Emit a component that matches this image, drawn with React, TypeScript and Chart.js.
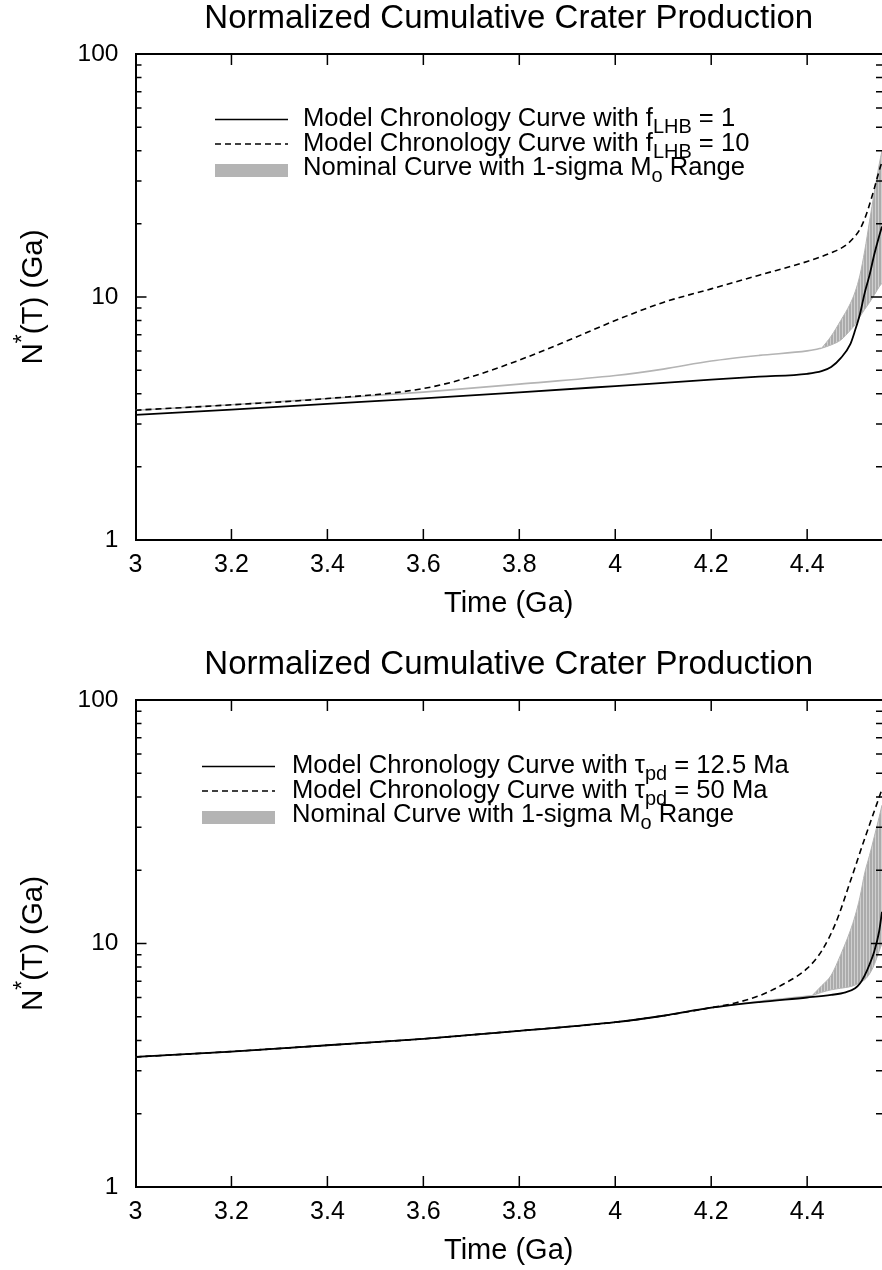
import React, { useEffect, useRef } from "react";
import { Chart, registerables } from "chart.js";

Chart.register(...registerables);

const FONT = '"Liberation Sans", Arial, Helvetica, sans-serif';
const TITLE = "Normalized Cumulative Crater Production";
const X_TITLE = "Time (Ga)";

const X_MIN = 3;
const X_MAX = 4.556;
const X_TICKS = [3, 3.2, 3.4, 3.6, 3.8, 4, 4.2, 4.4];
const X_TICK_LABELS = ["3", "3.2", "3.4", "3.6", "3.8", "4", "4.2", "4.4"];
const Y_MIN = 1;
const Y_MAX = 100;
const Y_TICKS = [1, 10, 100];
const Y_TICK_LABELS = ["1", "10", "100"];
const Y_MINOR = [2, 3, 4, 5, 6, 7, 8, 9, 20, 30, 40, 50, 60, 70, 80, 90];

// ---------- Top panel (f_LHB) ----------
const TOP_SOLID_X = [3.0, 3.2, 3.4, 3.6, 3.8, 4.0, 4.2, 4.3, 4.4, 4.43, 4.45, 4.47, 4.49, 4.5, 4.51, 4.52, 4.53, 4.54, 4.55, 4.556];
const TOP_SOLID_Y = [3.27, 3.44, 3.63, 3.83, 4.05, 4.3, 4.57, 4.7, 4.83, 4.95, 5.15, 5.6, 6.4, 7.3, 8.5, 10.4, 12.3, 15.0, 17.8, 19.5];

const TOP_DASHED_X = [3.0, 3.2, 3.4, 3.6, 3.7, 3.8, 3.9, 4.0, 4.1, 4.2, 4.3, 4.4, 4.45, 4.48, 4.5, 4.51, 4.52, 4.53, 4.54, 4.55, 4.556];
const TOP_DASHED_Y = [3.42, 3.6, 3.82, 4.2, 4.7, 5.5, 6.6, 8.0, 9.5, 10.8, 12.3, 14.0, 15.2, 16.3, 17.8, 19.0, 21.0, 24.0, 28.0, 33.0, 36.0];

const TOP_NOMINAL_X = [3.0, 3.2, 3.4, 3.6, 3.8, 4.0, 4.1, 4.2, 4.3, 4.4, 4.43];
const TOP_NOMINAL_Y = [3.42, 3.6, 3.82, 4.06, 4.38, 4.75, 5.05, 5.45, 5.75, 6.0, 6.15];

const TOP_BAND_X = [4.43, 4.45, 4.47, 4.49, 4.5, 4.51, 4.52, 4.53, 4.54, 4.55, 4.556];
const TOP_BAND_LOW = [6.15, 6.35, 6.65, 7.3, 7.7, 8.3, 8.9, 9.5, 10.2, 11.0, 11.4];
const TOP_BAND_HIGH = [6.15, 6.9, 8.0, 9.4, 10.5, 12.3, 15.5, 20.5, 27.0, 35.0, 40.0];

// ---------- Bottom panel (tau_pd) ----------
const BOT_SOLID_X = [3.0, 3.2, 3.4, 3.6, 3.8, 4.0, 4.1, 4.2, 4.3, 4.4, 4.45, 4.48, 4.5, 4.51, 4.52, 4.53, 4.54, 4.55, 4.556];
const BOT_SOLID_Y = [3.42, 3.6, 3.82, 4.06, 4.38, 4.75, 5.05, 5.45, 5.75, 6.0, 6.15, 6.3, 6.55, 6.85, 7.4, 8.2, 9.3, 11.2, 13.5];

const BOT_DASHED_X = [3.0, 3.2, 3.4, 3.6, 3.8, 4.0, 4.1, 4.2, 4.25, 4.3, 4.35, 4.4, 4.43, 4.46, 4.49, 4.52, 4.54, 4.556];
const BOT_DASHED_Y = [3.42, 3.6, 3.82, 4.06, 4.38, 4.75, 5.05, 5.45, 5.7, 6.1, 6.8, 7.9, 9.3, 12.2, 18.0, 27.0, 35.0, 43.0];

const BOT_NOMINAL_X = [3.0, 3.2, 3.4, 3.6, 3.8, 4.0, 4.1, 4.2, 4.3, 4.41];
const BOT_NOMINAL_Y = [3.42, 3.6, 3.82, 4.06, 4.38, 4.75, 5.05, 5.45, 5.78, 6.1];

const BOT_BAND_X = [4.41, 4.43, 4.45, 4.47, 4.49, 4.5, 4.51, 4.52, 4.53, 4.54, 4.55, 4.556];
const BOT_BAND_LOW = [6.1, 6.3, 6.45, 6.55, 6.65, 6.75, 6.9, 7.1, 7.5, 8.2, 9.3, 10.0];
const BOT_BAND_HIGH = [6.1, 6.7, 7.4, 9.0, 11.3, 13.0, 15.5, 19.5, 23.0, 27.5, 33.0, 37.0];

type Part = { t: string; sub?: boolean; sup?: boolean };
type LegendItem = { kind: "solid" | "dashed" | "band"; parts: Part[] };

const TOP_LEGEND: LegendItem[] = [
  { kind: "solid", parts: [{ t: "Model Chronology Curve with f" }, { t: "LHB", sub: true }, { t: " = 1" }] },
  { kind: "dashed", parts: [{ t: "Model Chronology Curve with f" }, { t: "LHB", sub: true }, { t: " = 10" }] },
  { kind: "band", parts: [{ t: "Nominal Curve with 1-sigma M" }, { t: "o", sub: true }, { t: " Range" }] },
];

const BOT_LEGEND: LegendItem[] = [
  { kind: "solid", parts: [{ t: "Model Chronology Curve with \u03c4" }, { t: "pd", sub: true }, { t: " = 12.5 Ma" }] },
  { kind: "dashed", parts: [{ t: "Model Chronology Curve with \u03c4" }, { t: "pd", sub: true }, { t: " = 50 Ma" }] },
  { kind: "band", parts: [{ t: "Nominal Curve with 1-sigma M" }, { t: "o", sub: true }, { t: " Range" }] },
];

const Y_TITLE_PARTS: Part[] = [{ t: "N" }, { t: "*", sup: true }, { t: "(T) (Ga)" }];

const GRAY = "#b4b4b4";

function partFont(p: Part, size: number) {
  const s = p.sub || p.sup ? size * 0.78 : size;
  return `${s}px ${FONT}`;
}
function partDy(p: Part, size: number) {
  if (p.sub) return size * 0.28;
  if (p.sup) return -size * 0.42;
  return 0;
}
function richWidth(ctx: CanvasRenderingContext2D, parts: Part[], size: number) {
  let w = 0;
  for (const p of parts) {
    ctx.font = partFont(p, size);
    w += ctx.measureText(p.t).width;
  }
  return w;
}
function drawRich(ctx: CanvasRenderingContext2D, parts: Part[], x: number, y: number, size: number) {
  let cx = x;
  for (const p of parts) {
    ctx.font = partFont(p, size);
    ctx.fillText(p.t, cx, y + partDy(p, size));
    cx += ctx.measureText(p.t).width;
  }
}

function makeHatch(): CanvasPattern | string {
  const c = document.createElement("canvas");
  c.width = 3;
  c.height = 4;
  const g = c.getContext("2d");
  if (!g) return GRAY;
  g.fillStyle = "#cfcfcf";
  g.fillRect(0, 0, 3, 4);
  g.fillStyle = "#ababab";
  g.fillRect(0, 0, 2, 4);
  return g.createPattern(c, "repeat") || GRAY;
}

const framePlugin = {
  id: "gnuFrame",
  afterDatasetsDraw(chart: any) {
    const { ctx, chartArea: a, scales } = chart;
    const xs = scales.x;
    const ys = scales.y;
    const MAJOR = 11;
    const MINOR = 6;
    ctx.save();
    ctx.strokeStyle = "#000";
    ctx.lineWidth = 2;
    ctx.beginPath();
    ctx.moveTo(a.left, a.top);
    ctx.lineTo(a.right, a.top);
    ctx.stroke();
    ctx.lineWidth = 1.5;
    ctx.beginPath();
    for (const v of X_TICKS) {
      if (v === X_MIN) continue;
      const px = xs.getPixelForValue(v);
      ctx.moveTo(px, a.bottom);
      ctx.lineTo(px, a.bottom - MAJOR);
      ctx.moveTo(px, a.top);
      ctx.lineTo(px, a.top + MAJOR);
    }
    for (const v of Y_TICKS) {
      const py = ys.getPixelForValue(v);
      ctx.moveTo(a.left, py);
      ctx.lineTo(a.left + MAJOR, py);
      ctx.moveTo(a.right, py);
      ctx.lineTo(a.right - MAJOR, py);
    }
    for (const v of Y_MINOR) {
      const py = ys.getPixelForValue(v);
      ctx.moveTo(a.left, py);
      ctx.lineTo(a.left + MINOR, py);
      ctx.moveTo(a.right, py);
      ctx.lineTo(a.right - MINOR, py);
    }
    ctx.stroke();
    ctx.restore();
  },
};

const legendPlugin = {
  id: "gnuLegend",
  afterDraw(chart: any, _args: any, opts: any) {
    const { ctx } = chart;
    const items: LegendItem[] = opts.items || [];
    const size = opts.size;
    ctx.save();
    ctx.fillStyle = "#000";
    ctx.textBaseline = "alphabetic";
    ctx.textAlign = "left";
    items.forEach((it, i) => {
      const base = opts.baselines[i];
      if (it.kind === "band") {
        ctx.fillStyle = GRAY;
        ctx.fillRect(opts.sampleX0, base - 4.5 - 6.5, opts.sampleX1 - opts.sampleX0, 13);
      } else {
        ctx.strokeStyle = "#000";
        ctx.lineWidth = 1.6;
        ctx.setLineDash(it.kind === "dashed" ? [6, 4] : []);
        ctx.beginPath();
        ctx.moveTo(opts.sampleX0, base - 6.5);
        ctx.lineTo(opts.sampleX1, base - 6.5);
        ctx.stroke();
        ctx.setLineDash([]);
      }
      ctx.fillStyle = "#000";
      drawRich(ctx, it.parts, opts.textX, base, size);
    });
    ctx.restore();
  },
};

const yTitlePlugin = {
  id: "gnuYTitle",
  afterDraw(chart: any, _args: any, opts: any) {
    const { ctx, chartArea: a } = chart;
    const size = opts.size;
    const w = richWidth(ctx, Y_TITLE_PARTS, size);
    ctx.save();
    ctx.translate(opts.baselineX, (a.top + a.bottom) / 2);
    ctx.rotate(-Math.PI / 2);
    ctx.fillStyle = "#000";
    ctx.textBaseline = "alphabetic";
    ctx.textAlign = "left";
    drawRich(ctx, Y_TITLE_PARTS, -w / 2, 0, size);
    ctx.restore();
  },
};

const pts = (xs: number[], ys: number[]) => xs.map((x, i) => ({ x, y: ys[i] }));

type PanelSpec = {
  height: number;
  xAxisHeight: number;
  xTitleBottom: number;
  solid: [number[], number[]];
  dashed: [number[], number[]];
  nominal: [number[], number[]];
  bandX: number[];
  bandLow: number[];
  bandHigh: number[];
  legend: LegendItem[];
  legendSampleX0: number;
  legendSampleX1: number;
  legendTextX: number;
  legendBaselines: number[];
};

const TITLE_SIZE = 33;
const TITLE_LH = 1.05;
const TITLE_PAD_TOP = 2;

function makeConfig(spec: PanelSpec): any {
  const hatch = makeHatch();
  const lineCommon = { pointRadius: 0, cubicInterpolationMode: "monotone" as const, tension: 0 };
  return {
    type: "line",
    data: {
      datasets: [
        { ...lineCommon, label: "solid", data: pts(spec.solid[0], spec.solid[1]), borderColor: "#000", borderWidth: 1.8, fill: false },
        { ...lineCommon, label: "dashed", data: pts(spec.dashed[0], spec.dashed[1]), borderColor: "#000", borderWidth: 1.6, borderDash: [6, 4], fill: false },
        { ...lineCommon, label: "nominal", data: pts(spec.nominal[0], spec.nominal[1]), borderColor: GRAY, borderWidth: 1.6, fill: false },
        { ...lineCommon, label: "bandLow", data: pts(spec.bandX, spec.bandLow), borderColor: GRAY, borderWidth: 1, fill: false },
        { ...lineCommon, label: "bandHigh", data: pts(spec.bandX, spec.bandHigh), borderColor: GRAY, borderWidth: 1, fill: "-1", backgroundColor: hatch },
      ],
    },
    options: {
      responsive: false,
      animation: false,
      devicePixelRatio: 1,
      layout: { padding: 0 },
      events: [],
      plugins: {
        legend: { display: false },
        tooltip: { enabled: false },
        title: {
          display: true,
          text: TITLE,
          fullSize: false,
          color: "#000",
          font: { family: FONT, size: TITLE_SIZE, weight: "normal", lineHeight: TITLE_LH },
          padding: { top: TITLE_PAD_TOP, bottom: 54 - TITLE_PAD_TOP - TITLE_SIZE * TITLE_LH },
        },
        gnuLegend: {
          items: spec.legend,
          size: 25.6,
          sampleX0: spec.legendSampleX0,
          sampleX1: spec.legendSampleX1,
          textX: spec.legendTextX,
          baselines: spec.legendBaselines,
        },
        gnuYTitle: { size: 29.5, baselineX: 42 },
      },
      scales: {
        x: {
          type: "linear",
          min: X_MIN,
          max: X_MAX,
          afterBuildTicks: (s: any) => {
            s.ticks = X_TICKS.map((v) => ({ value: v }));
          },
          afterFit: (s: any) => {
            s.height = spec.xAxisHeight;
          },
          grid: { display: false, drawTicks: false },
          border: { display: true, color: "#000", width: 2 },
          ticks: {
            autoSkip: false,
            maxRotation: 0,
            padding: 10,
            color: "#000",
            font: { family: FONT, size: 25 },
            callback: (v: number) => X_TICK_LABELS[X_TICKS.indexOf(v)] ?? "",
          },
          title: {
            display: true,
            text: X_TITLE,
            color: "#000",
            font: { family: FONT, size: 29, lineHeight: 1.2 },
            padding: { top: 0, bottom: spec.xTitleBottom },
          },
        },
        y: {
          type: "logarithmic",
          min: Y_MIN,
          max: Y_MAX,
          afterBuildTicks: (s: any) => {
            s.ticks = Y_TICKS.map((v) => ({ value: v }));
          },
          afterFit: (s: any) => {
            s.width = 135.5;
          },
          grid: { display: false, drawTicks: false },
          border: { display: true, color: "#000", width: 2 },
          ticks: {
            autoSkip: false,
            padding: 17,
            color: "#000",
            font: { family: FONT, size: 24.5 },
            callback: (v: number) => Y_TICK_LABELS[Y_TICKS.indexOf(v)] ?? "",
          },
        },
      },
    },
    plugins: [framePlugin, legendPlugin, yTitlePlugin],
  };
}

const TOP_SPEC: PanelSpec = {
  height: 646,
  xAxisHeight: 106,
  xTitleBottom: 25,
  solid: [TOP_SOLID_X, TOP_SOLID_Y],
  dashed: [TOP_DASHED_X, TOP_DASHED_Y],
  nominal: [TOP_NOMINAL_X, TOP_NOMINAL_Y],
  bandX: TOP_BAND_X,
  bandLow: TOP_BAND_LOW,
  bandHigh: TOP_BAND_HIGH,
  legend: TOP_LEGEND,
  legendSampleX0: 215,
  legendSampleX1: 288,
  legendTextX: 303,
  legendBaselines: [126, 150.5, 175],
};

const BOT_SPEC: PanelSpec = {
  height: 624,
  xAxisHeight: 83,
  xTitleBottom: 2,
  solid: [BOT_SOLID_X, BOT_SOLID_Y],
  dashed: [BOT_DASHED_X, BOT_DASHED_Y],
  nominal: [BOT_NOMINAL_X, BOT_NOMINAL_Y],
  bandX: BOT_BAND_X,
  bandLow: BOT_BAND_LOW,
  bandHigh: BOT_BAND_HIGH,
  legend: BOT_LEGEND,
  legendSampleX0: 202,
  legendSampleX1: 275,
  legendTextX: 292,
  legendBaselines: [127, 151.5, 176],
};

function Panel({ spec }: { spec: PanelSpec }) {
  const ref = useRef<HTMLCanvasElement | null>(null);
  useEffect(() => {
    if (!ref.current) return;
    const chart = new Chart(ref.current, makeConfig(spec));
    return () => chart.destroy();
  }, [spec]);
  return <canvas ref={ref} width={882} height={spec.height} style={{ display: "block", width: 882, height: spec.height }} />;
}

export default function App() {
  if (typeof document !== "undefined") {
    document.body.style.margin = "0";
    document.body.style.background = "#fff";
  }
  return (
    <div style={{ width: 882, height: 1270, background: "#fff" }}>
      <Panel spec={TOP_SPEC} />
      <Panel spec={BOT_SPEC} />
    </div>
  );
}
